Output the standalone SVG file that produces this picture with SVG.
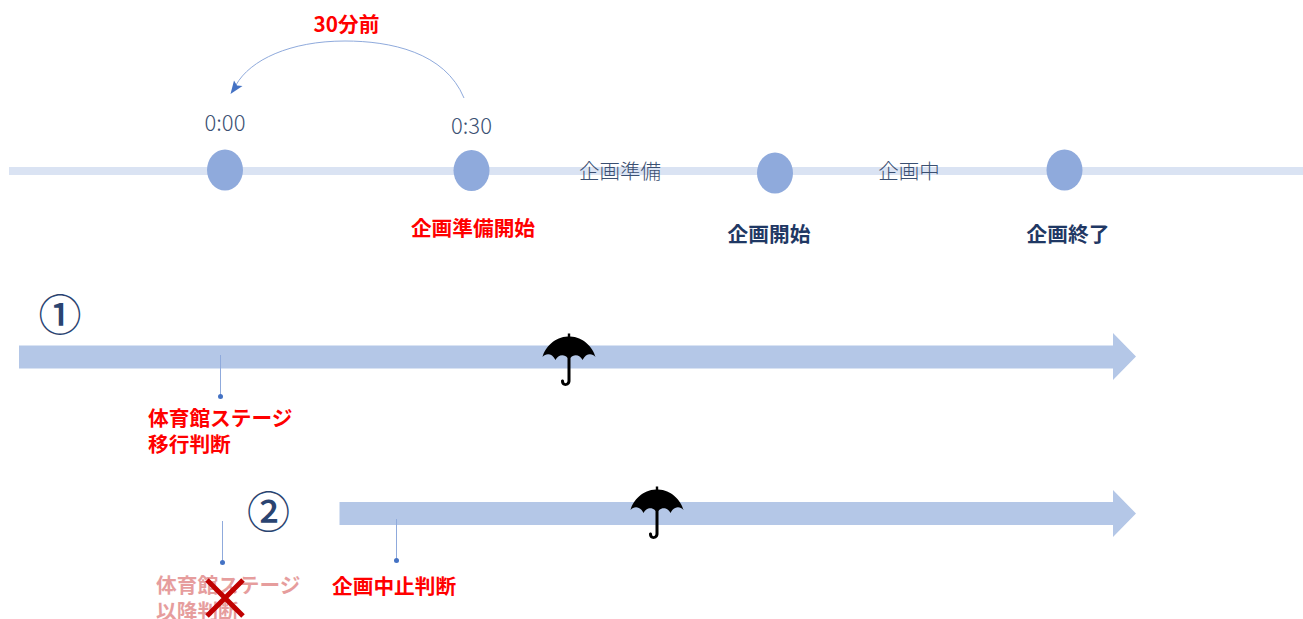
<svg xmlns="http://www.w3.org/2000/svg" width="1303" height="619" viewBox="0 0 1303 619">
<style>
text{font-family:"Noto Sans CJK JP","Liberation Sans",sans-serif}
.t{fill:#3a4f72;font-size:20.500px;font-weight:300}
.h{font-size:22px}
.c{fill:#8faadc}
.r{fill:#ff0000;font-size:20.700px;font-weight:700}
.n{fill:#1f3864;font-size:20.700px;font-weight:700}
.g{fill:#c00000;opacity:.38}
.a{fill:#b4c7e7}
.l{stroke:#8faadc;stroke-width:1;fill:none}
.d{fill:#4472c4}
.num{fill:#2a4471;font-size:43px;font-weight:500}
</style>
<defs>
<g id="umb">
<path d="M-1.200 -30.500 L1.200 -30.500 L1.200 -27.500 C14 -27 24 -17 26.500 -7 C23 -11 17 -11 13.500 -4 C11 -10 4 -10 1.500 -6 L1.500 17 C1.500 23 -8 24 -8 17 C-8 15 -5 15 -5 17 C-5 20 -1.500 20 -1.500 16.500 L-1.500 -6 C-4 -10 -11 -10 -13.500 -4 C-17 -11 -23 -11 -26.500 -7 C-24 -17 -14 -27 -1.200 -27.500 Z" fill="#000"/>
</g>
</defs>
<rect id="timeline" x="9" y="167" width="1294" height="8" fill="#dae3f3"/>
<g id="node-0000"><ellipse class="c" cx="225" cy="170" rx="18" ry="20.500"/><text class="t h" x="225" y="131" text-anchor="middle">0:00</text></g>
<g id="node-0030"><ellipse class="c" cx="471.500" cy="170.500" rx="18" ry="20.500"/><text class="t h" x="471.500" y="134" text-anchor="middle">0:30</text><text class="r" x="473" y="236" text-anchor="middle">企画準備開始</text></g>
<g id="node-start"><ellipse class="c" cx="775" cy="173" rx="18" ry="20.500"/><text class="n" x="769" y="242" text-anchor="middle">企画開始</text></g>
<g id="node-end"><ellipse class="c" cx="1064.500" cy="170" rx="18" ry="20.500"/><text class="n" x="1068" y="242" text-anchor="middle">企画終了</text></g>
<g id="label-prep"><text class="t" x="620" y="179" text-anchor="middle">企画準備</text></g>
<g id="label-during"><text class="t" x="909" y="179" text-anchor="middle">企画中</text></g>
<g id="label-30"><text class="r" x="346.500" y="32" text-anchor="middle">30分前</text></g>
<g id="arrow-1"><path class="a" d="M19 345.500 H1113 V333 L1136 356.500 L1113 380 V368.500 H19 Z"/><use href="#umb" x="569" y="364"/></g>
<g id="arrow-2"><path class="a" d="M339.500 502 H1113 V490 L1136 513.500 L1113 537 V525 H339.500 Z"/><use href="#umb" x="657" y="517"/></g>
<g id="num-1"><text class="num" x="60" y="331" text-anchor="middle">①</text></g>
<g id="num-2"><text class="num" x="268.500" y="528" text-anchor="middle">②</text></g>
<g id="label-stage"><text class="r" x="148" y="426">体育館ステージ</text><text class="r" x="148" y="452">移行判断</text></g>
<g id="label-stop"><text class="r" x="332" y="594">企画中止判断</text></g>
<g id="label-cancelled"><text class="r g" x="156" y="593">体育館ステージ</text><text class="r g" x="156" y="619">以降判断</text>
<path d="M207 580 L243 616 M243 580 L207 616" stroke="#c00000" stroke-width="5" fill="none"/></g>
<g id="connectors">
<path d="M464 98 C445 52 390 41 345 41 C290 41 250 60 236 85" class="l"/>
<path d="M230.500 94 L234 80.500 L237 85.500 L242.500 86 Z" fill="#4472c4"/>
<line x1="220.500" y1="355" x2="220.500" y2="396" class="l"/>
<circle cx="220.500" cy="396.500" r="2.500" class="d"/>
<line x1="222.500" y1="521" x2="222.500" y2="562" class="l"/>
<circle cx="222.500" cy="562.500" r="2.500" class="d"/>
<line x1="396.500" y1="519" x2="396.500" y2="560" class="l"/>
<circle cx="396.500" cy="560.500" r="2.500" class="d"/>
</g>
</svg>
